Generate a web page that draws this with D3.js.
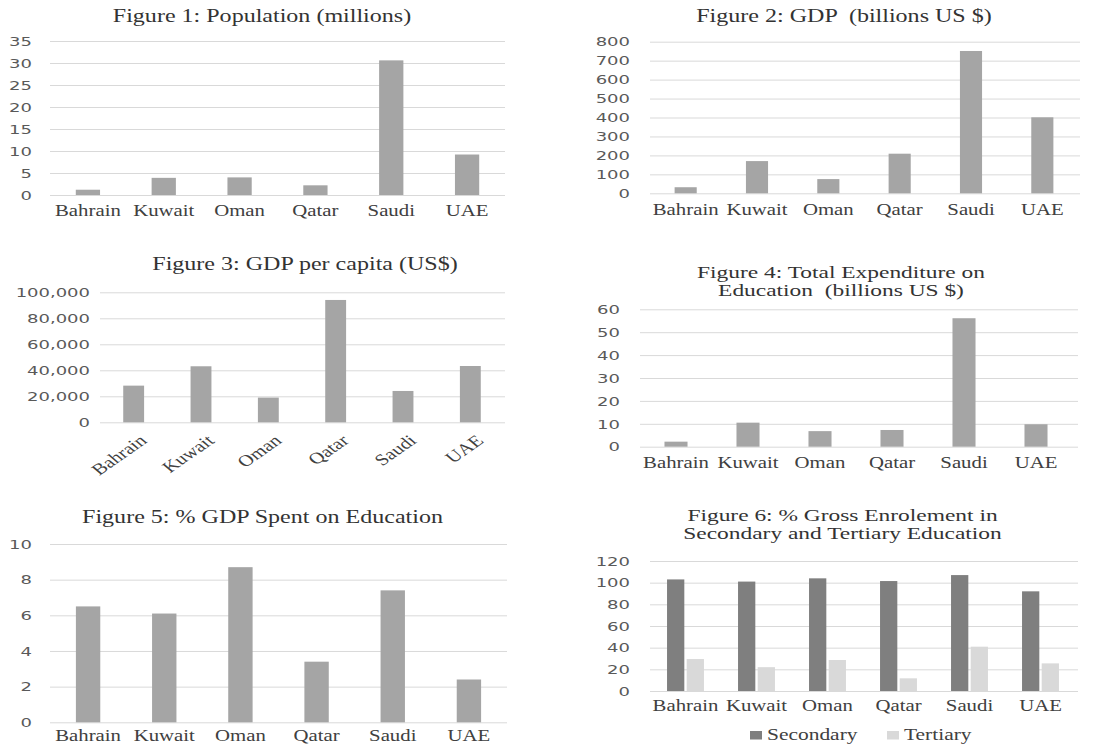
<!DOCTYPE html>
<html lang="en">
<head>
  <meta charset="UTF-8" />
  <title>GCC indicators</title>
  <script src="https://d3js.org/d3.v7.min.js"></script>
  <style>
    body {
      margin: 0;
      background: #fff;
      overflow: hidden;
    }

    svg {
      display: block;
    }

    .grid line {
      stroke: #d9d9d9;
      stroke-width: 1px;
    }

    .num {
      font-family: "DejaVu Sans", sans-serif;
      font-size: 12px;
      fill: #595959;
    }

    .cat {
      font-size: 16px;
      fill: #404040;
    }

    .title {
      font-size: 18px;
      fill: #333;
      white-space: pre;
    }
  </style>
</head>
<body>
  <svg width="1099" height="744"></svg>
  <script>
    const countries = ["Bahrain", "Kuwait", "Oman", "Qatar", "Saudi", "UAE"];

    const population = [1.2, 3.9, 4.0, 2.2, 30.6, 9.2];
    const gdp = [32, 170, 75, 209, 751, 401];
    const gdpPerCapita = [28200, 43100, 19000, 94100, 24100, 43300];
    const eduSpend = [2.2, 10.5, 6.8, 7.3, 56.1, 9.8];
    const eduPctGdp = [6.5, 6.1, 8.7, 3.4, 7.4, 2.4];
    const secondary = [103, 101, 104, 101.5, 107, 92];
    const tertiary = [29.5, 22, 28.6, 11.7, 40.9, 25.5];

    const popTicks = [0, 5, 10, 15, 20, 25, 30, 35];
    const gdpTicks = [0, 100, 200, 300, 400, 500, 600, 700, 800];
    const gdppcTicks = [0, 20000, 40000, 60000, 80000, 100000];
    const eduTicks = [0, 10, 20, 30, 40, 50, 60];
    const pctTicks = [0, 2, 4, 6, 8, 10];
    const enrolTicks = [0, 20, 40, 60, 80, 100, 120];

    const seriesNames = ["Secondary", "Tertiary"];
    const seriesColors = ["#7f7f7f", "#d9d9d9"];
    const barColor = "#a5a5a5";

    const SERIF = "'Liberation Serif', 'Times New Roman', 'DejaVu Serif', serif";

    // text in the source is stretched sideways, so every label gets a scale
    const SX = 1.3;
    const NUMSX = 1.5;

    const svg = d3.select("svg");

    function title(lines, cx, y0, size, sx = SX, lead = 17) {
      const t = svg.append("g").attr("transform", `translate(${cx},${y0}) scale(${sx},1)`);
      lines.forEach((ln, i) => {
        t.append("text")
          .attr("class", "title")
          .attr("text-anchor", "middle")
          .attr("y", i * lead)
          .style("font-family", SERIF)
          .style("font-size", size + "px")
          .text(ln);
      });
    }

    function panel(p) {
      const x = d3.scaleBand().domain(countries).range([p.x0, p.x1])
        .paddingInner(p.pad).paddingOuter(p.pad / 2);
      const y = d3.scaleLinear().domain([0, d3.max(p.ticks)]).range([p.yb, p.yt]);
      const g = svg.append("g");

      const yAxis = d3.axisLeft(y)
        .tickValues(p.ticks)
        .tickSize(-(p.gx1 - p.x0))
        .tickFormat(p.fmt || d3.format(","));
      const ga = g.append("g")
        .attr("class", "grid")
        .attr("transform", `translate(${p.x0},0)`)
        .call(yAxis);
      ga.select(".domain").remove();
      ga.selectAll("text")
        .attr("class", "num")
        .attr("x", null)
        .attr("dy", "0.35em")
        .attr("transform", `translate(${p.lx - p.x0},0) scale(${NUMSX},1)`);

      const xa = g.append("g")
        .attr("transform", `translate(0,${p.yb})`)
        .call(d3.axisBottom(x).tickSize(0));
      xa.select(".domain").remove();
      xa.selectAll("line").remove();
      const xt = xa.selectAll("text")
        .attr("class", "cat")
        .attr("y", null)
        .attr("dy", null)
        .style("font-family", SERIF);
      if (p.rot) {
        xt.attr("text-anchor", "end")
          .attr("transform", `translate(${x.bandwidth() / 2 + 4},${p.cy - p.yb}) scale(${SX},1) rotate(-42)`);
      } else {
        xt.attr("transform", `translate(0,${p.cy - p.yb}) scale(${SX},1)`);
      }

      if (p.series) {
        const x1 = d3.scaleBand().domain(seriesNames).range([0, x.bandwidth()]).paddingInner(0.12);
        p.series.forEach((vals, si) => {
          g.append("g")
            .selectAll("rect")
            .data(countries)
            .join("rect")
            .attr("x", d => x(d) + x1(seriesNames[si]))
            .attr("width", x1.bandwidth())
            .attr("y", (d, i) => y(vals[i]))
            .attr("height", (d, i) => y(0) - y(vals[i]))
            .attr("fill", seriesColors[si]);
        });
      } else {
        g.append("g")
          .selectAll("rect")
          .data(countries)
          .join("rect")
          .attr("x", d => x(d))
          .attr("width", x.bandwidth())
          .attr("y", (d, i) => y(p.values[i]))
          .attr("height", (d, i) => y(0) - y(p.values[i]))
          .attr("fill", barColor);
      }
      return x;
    }

    // Figure 1
    title(["Figure 1: Population (millions)"], 262, 22, 18.5);
    panel({ values: population, ticks: popTicks, x0: 50, x1: 505, gx1: 505, yt: 41, yb: 195, lx: 32, cy: 216, pad: 0.68 });

    // Figure 2
    title(["Figure 2: GDP  (billions US $)"], 844, 22, 18.5);
    panel({ values: gdp, ticks: gdpTicks, x0: 650, x1: 1078, gx1: 1080, yt: 41.7, yb: 193.3, lx: 630, cy: 215, pad: 0.69 });

    // Figure 3
    title(["Figure 3: GDP per capita (US$)"], 305, 270, 18.5);
    panel({ values: gdpPerCapita, ticks: gdppcTicks, x0: 100, x1: 504, gx1: 505, yt: 292.3, yb: 422.3, lx: 90, cy: 442, pad: 0.69, rot: true });

    // Figure 4
    title(["Figure 4: Total Expenditure on", "Education  (billions US $)"], 841, 278, 16.5, 1.42, 18);
    panel({ values: eduSpend, ticks: eduTicks, x0: 640, x1: 1072, gx1: 1078, yt: 309.3, yb: 446.7, lx: 620, cy: 468, pad: 0.68 });

    // Figure 5
    title(["Figure 5: % GDP Spent on Education"], 262.5, 523, 18.5);
    panel({ values: eduPctGdp, ticks: pctTicks, x0: 50, x1: 507, gx1: 507, yt: 544, yb: 722.3, lx: 32, cy: 741, pad: 0.68, fmt: d3.format("d") });

    // Figure 6
    title(["Figure 6: % Gross Enrolement in", "Secondary and Tertiary Education"], 842.5, 521, 16.5, 1.42, 18);
    panel({ series: [secondary, tertiary], ticks: enrolTicks, x0: 650, x1: 1076, gx1: 1078, yt: 561, yb: 691, lx: 630, cy: 711, pad: 0.48, fmt: d3.format("d") });

    // legend for figure 6
    const legendX = [750, 887];
    const legend = svg.append("g");
    seriesNames.forEach((name, i) => {
      legend.append("rect")
        .attr("x", legendX[i])
        .attr("y", 731)
        .attr("width", 12)
        .attr("height", 8.5)
        .attr("fill", seriesColors[i]);
      legend.append("text")
        .attr("class", "cat")
        .attr("transform", `translate(${legendX[i] + 17},740) scale(${SX},1)`)
        .style("font-family", SERIF)
        .style("font-size", "16.5px")
        .text(name);
    });
  </script>
</body>
</html>
